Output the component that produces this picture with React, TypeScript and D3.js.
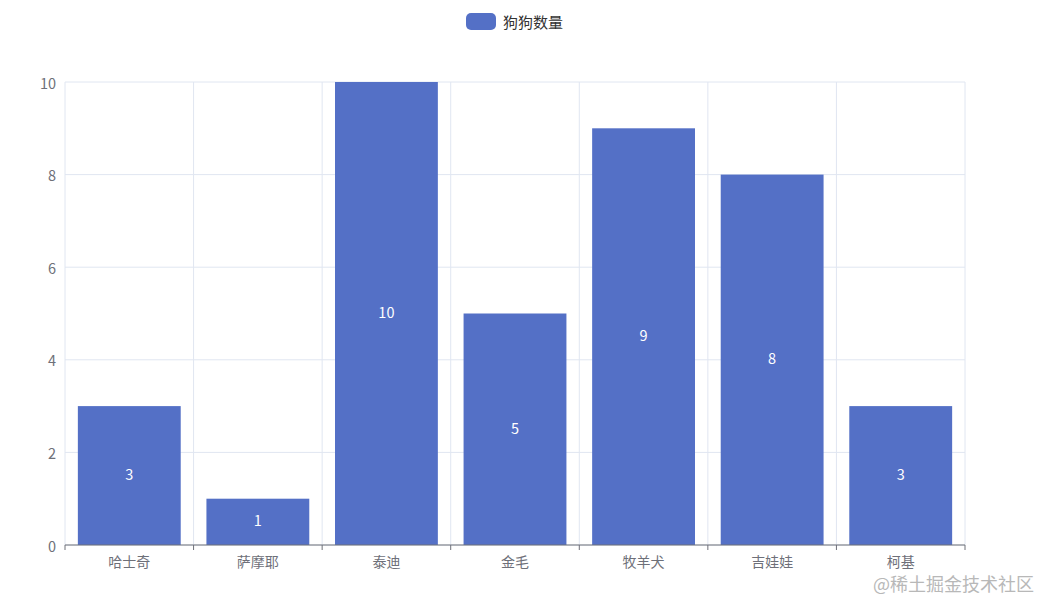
import React from "react";
import * as d3 from "d3";

const categories = ["哈士奇", "萨摩耶", "泰迪", "金毛", "牧羊犬", "吉娃娃", "柯基"];
const values = [3, 1, 10, 5, 9, 8, 3];
const yTicks = [0, 2, 4, 6, 8, 10];
const seriesName = "狗狗数量";

const W = 1041;
const H = 599;
const margin = { left: 65, right: 76, top: 82, bottom: 54 };
const FONT = "'Noto Sans CJK SC', 'Microsoft YaHei', sans-serif";

export default function App() {
  const x = d3
    .scaleBand<string>()
    .domain(categories)
    .range([margin.left, W - margin.right])
    .paddingInner(0.2)
    .paddingOuter(0.1);
  const y = d3.scaleLinear().domain([0, 10]).range([H - margin.bottom, margin.top]);
  const step = x.step();
  const x0 = margin.left;
  const boundaries = d3.range(categories.length + 1).map((i) => x0 + i * step);
  const baseY = y(0);

  return (
    <svg
      width={W}
      height={H}
      style={{ position: "absolute", left: 0, top: 0, background: "#fff" }}
      fontFamily={FONT}
    >
      {/* horizontal grid */}
      {yTicks.map((t) => (
        <line key={"h" + t} x1={margin.left} x2={W - margin.right} y1={y(t)} y2={y(t)} stroke="#e0e6f1" strokeWidth={1} />
      ))}
      {/* vertical grid */}
      {boundaries.map((b, i) => (
        <line key={"v" + i} x1={b} x2={b} y1={margin.top} y2={baseY} stroke="#e0e6f1" strokeWidth={1} />
      ))}
      {/* bars */}
      {categories.map((c, i) => (
        <rect key={c} x={x(c)} y={y(values[i])} width={x.bandwidth()} height={baseY - y(values[i])} fill="#5470c6" />
      ))}
      {/* labels */}
      {categories.map((c, i) => (
        <text
          key={"l" + c}
          x={(x(c) as number) + x.bandwidth() / 2}
          y={(y(values[i]) + baseY) / 2 - 2}
          fill="#fff"
          fontSize={14.5}
          textAnchor="middle"
          dominantBaseline="central"
        >
          {values[i]}
        </text>
      ))}
      {/* x axis */}
      <line x1={margin.left} x2={W - margin.right} y1={baseY} y2={baseY} stroke="#6e7079" strokeWidth={1} />
      {boundaries.map((b, i) => (
        <line key={"t" + i} x1={b} x2={b} y1={baseY} y2={baseY + 5} stroke="#6e7079" strokeWidth={1} />
      ))}
      {categories.map((c) => (
        <text
          key={"x" + c}
          x={(x(c) as number) + x.bandwidth() / 2}
          y={baseY + 16}
          fill="#6e7079"
          fontSize={14}
          textAnchor="middle"
          dominantBaseline="central"
        >
          {c}
        </text>
      ))}
      {/* y axis labels */}
      {yTicks.map((t) => (
        <text
          key={"y" + t}
          x={margin.left - 9}
          y={y(t)}
          fill="#6e7079"
          fontSize={14.5}
          textAnchor="end"
          dominantBaseline="central"
        >
          {t}
        </text>
      ))}
      {/* legend */}
      <rect x={466} y={13} width={30} height={17} rx={5} ry={5} fill="#5470c6" />
      <text x={503} y={21.5} fill="#333" fontSize={15} dominantBaseline="central">
        {seriesName}
      </text>
      {/* watermark */}
      <text x={1034} y={583} fill="#b8b8b8" fontSize={18} textAnchor="end" dominantBaseline="central">
        @稀土掘金技术社区
      </text>
    </svg>
  );
}
